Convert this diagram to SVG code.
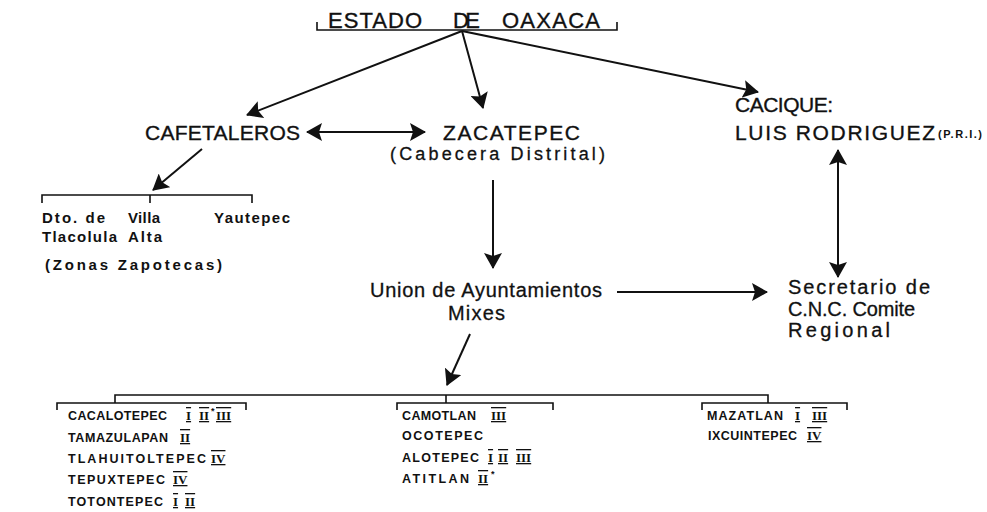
<svg xmlns="http://www.w3.org/2000/svg" width="987" height="512" viewBox="0 0 987 512">
<style>
text{font-family:"Liberation Sans",Arial,sans-serif;fill:#111}
.big{font-size:21px;stroke:#111;stroke-width:0.35}
.mid{font-size:20px;stroke:#111;stroke-width:0.3}
.sm{font-size:15px;font-weight:bold}
.ls{font-size:12.5px;font-weight:bold}
.rn{font-family:"Liberation Serif",serif;font-weight:bold;font-size:13px;text-decoration:underline overline}
.ast{font-size:9px;font-weight:bold}
.ln{stroke:#111;stroke-width:2;fill:none}
.br{stroke:#111;stroke-width:1.6;fill:none}
</style>
<defs>
<marker id="ah" viewBox="0 0 16 18" refX="15" refY="9" markerWidth="16" markerHeight="18" markerUnits="userSpaceOnUse" orient="auto-start-reverse">
<path d="M0,0 L16,9 L0,18 L3,9 z" fill="#111"/>
</marker>
</defs>

<g id="title">
<text x="328" y="28" style="font-size:22px;stroke:#111;stroke-width:0.35"><tspan x="328" textLength="94">ESTADO</tspan> <tspan x="453" textLength="27">DE</tspan> <tspan x="502" textLength="98">OAXACA</tspan></text>
<path class="br" d="M317,22 V30 H617 V22"/>
</g>

<g id="cafetaleros">
<text class="big" x="145" y="140" textLength="155">CAFETALEROS</text>
</g>
<g id="zacatepec">
<text class="big" x="443" y="140" textLength="137">ZACATEPEC</text>
<text style="font-size:18px;stroke:#111;stroke-width:0.3" x="390" y="160" textLength="215">(Cabecera Distrital)</text>
</g>
<g id="cacique">
<text class="big" x="735" y="112" textLength="98">CACIQUE:</text>
<text class="big" x="735" y="140" textLength="200">LUIS RODRIGUEZ</text>
<text x="938" y="138" style="font-size:11px;font-weight:bold" textLength="44">(P.R.I.)</text>
</g>
<g id="zapotecas">
<path class="br" d="M42,203 V195 H252 V203 M150,195 V203"/>
<text class="sm" x="42" y="223" textLength="63">Dto. de</text>
<text class="sm" x="42" y="242" textLength="75">Tlacolula</text>
<text class="sm" x="128" y="223" textLength="32">Villa</text>
<text class="sm" x="128" y="242" textLength="34">Alta</text>
<text class="sm" x="214" y="223" textLength="76">Yautepec</text>
<text class="sm" x="45" y="270" textLength="177">(Zonas Zapotecas)</text>
</g>
<g id="union">
<text class="mid" x="370" y="297" textLength="232">Union de Ayuntamientos</text>
<text class="mid" x="448" y="320" textLength="57">Mixes</text>
</g>
<g id="secretario">
<text class="mid" x="788" y="294" textLength="142">Secretario de</text>
<text class="mid" x="788" y="316" textLength="127">C.N.C. Comite</text>
<text class="mid" x="788" y="337" textLength="102">Regional</text>
</g>

<g id="brackets">
<path class="br" d="M115,403 V395 H768 V403"/>
<path class="br" d="M446,395 V403"/>
<path class="br" d="M57,410 V403 H246 V410"/>
<path class="br" d="M397,410 V403 H553 V410"/>
<path class="br" d="M702,410 V403 H847 V410"/>
</g>

<g id="list-left">
<text class="ls" x="68" y="420" textLength="99">CACALOTEPEC</text>
<text class="rn" x="186" y="420">I</text><text class="rn" x="199" y="420">II</text><text class="ast" x="211" y="414">*</text><text class="rn" x="216" y="420">III</text>
<text class="ls" x="68" y="442" textLength="100">TAMAZULAPAN</text>
<text class="rn" x="180" y="442">II</text>
<text class="ls" x="68" y="463" textLength="138">TLAHUITOLTEPEC</text>
<text class="rn" x="211" y="463">IV</text>
<text class="ls" x="68" y="484" textLength="97">TEPUXTEPEC</text>
<text class="rn" x="173" y="484">IV</text>
<text class="ls" x="68" y="506" textLength="95">TOTONTEPEC</text>
<text class="rn" x="173" y="506">I</text><text class="rn" x="185" y="506">II</text>
</g>
<g id="list-mid">
<text class="ls" x="402" y="420" textLength="74">CAMOTLAN</text>
<text class="rn" x="491" y="420">III</text>
<text class="ls" x="402" y="440" textLength="81">OCOTEPEC</text>
<text class="ls" x="402" y="462" textLength="77">ALOTEPEC</text>
<text class="rn" x="488" y="462">I</text><text class="rn" x="498" y="462">II</text><text class="rn" x="516" y="462">III</text>
<text class="ls" x="402" y="483" textLength="67">ATITLAN</text>
<text class="rn" x="478" y="483">II</text><text class="ast" x="491" y="477">*</text>
</g>
<g id="list-right">
<text class="ls" x="707" y="420" textLength="76">MAZATLAN</text>
<text class="rn" x="795" y="420">I</text><text class="rn" x="812" y="420">III</text>
<text class="ls" x="708" y="440" textLength="89">IXCUINTEPEC</text>
<text class="rn" x="807" y="440">IV</text>
</g>

<g id="connectors">
<line class="ln" x1="462" y1="31" x2="247" y2="115" marker-end="url(#ah)"/>
<line class="ln" x1="462" y1="31" x2="483" y2="108" marker-end="url(#ah)"/>
<line class="ln" x1="462" y1="31" x2="758" y2="92" marker-end="url(#ah)"/>
<line class="ln" x1="307" y1="132" x2="425" y2="132" marker-start="url(#ah)" marker-end="url(#ah)"/>
<line class="ln" x1="202" y1="149" x2="153" y2="190" marker-end="url(#ah)"/>
<line class="ln" x1="493" y1="180" x2="493" y2="268" marker-end="url(#ah)"/>
<line class="ln" x1="617" y1="292" x2="767" y2="292" marker-end="url(#ah)"/>
<line class="ln" x1="838" y1="150" x2="838" y2="277" marker-start="url(#ah)" marker-end="url(#ah)"/>
<line class="ln" x1="470" y1="334" x2="447" y2="385" marker-end="url(#ah)"/>
</g>
</svg>
